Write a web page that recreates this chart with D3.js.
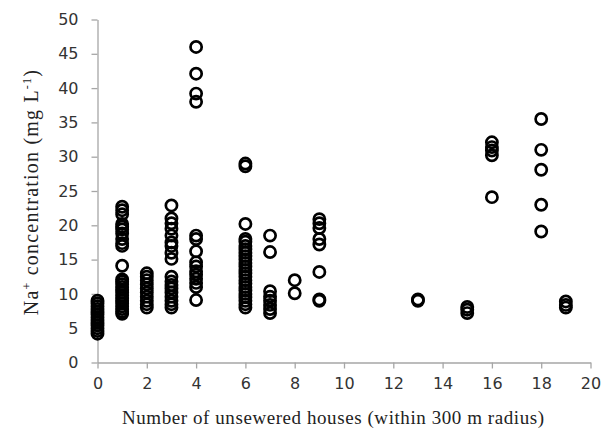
<!DOCTYPE html>
<html><head><meta charset="utf-8">
<script src="https://cdn.jsdelivr.net/npm/d3@7"></script>
<style>body{margin:0;background:#fff}svg{display:block}</style>
</head><body>
<script>
// Data: x = number of unsewered houses, y = Na+ concentration (mg/L)
const x0  = [4.2, 4.6, 5.0, 5.4, 5.8, 6.2, 6.6, 7.0, 7.4, 7.8, 8.2, 8.6, 9.0];
const x1  = [7.1, 7.4, 7.8, 8.2, 8.6, 9.0, 9.4, 9.8, 10.2, 10.6, 11.0, 11.4, 11.8, 12.1, 14.1, 17.0, 17.4, 18.0, 18.8, 19.4, 19.8, 20.2, 21.6, 22.2, 22.7];
const x2  = [8.0, 8.5, 9.0, 9.6, 10.2, 10.8, 11.4, 12.0, 12.5, 13.0];
const x3  = [8.0, 8.5, 9.0, 9.6, 10.2, 10.8, 11.3, 11.8, 12.5, 15.1, 16.0, 17.0, 17.5, 18.5, 19.5, 20.3, 21.0, 22.9];
const x4  = [9.1, 11.0, 11.6, 12.2, 12.8, 13.3, 14.0, 14.6, 16.2, 18.0, 18.5, 38.0, 39.2, 42.1, 46.0];
const x6  = [8.0, 8.5, 9.0, 9.5, 10.0, 10.5, 11.0, 11.5, 12.0, 12.5, 13.0, 13.5, 14.0, 14.5, 15.0, 15.5, 16.0, 16.5, 17.0, 17.6, 18.0, 20.2, 28.6, 29.0];
const x7  = [7.2, 7.8, 8.4, 9.0, 9.6, 10.4, 16.1, 18.5];
const x8  = [10.1, 12.0];
const x9  = [9.0, 9.2, 13.2, 17.2, 18.0, 19.6, 20.3, 20.9];
const x13 = [9.0, 9.2];
const x15 = [7.2, 7.7, 8.1];
const x16 = [24.1, 30.2, 30.9, 31.4, 32.1];
const x18 = [19.1, 23.0, 28.1, 31.0, 35.5];
const x19 = [8.0, 8.4, 8.9];
const houses = [0, 1, 2, 3, 4, 6, 7, 8, 9, 13, 15, 16, 18, 19];
const naValues = [x0, x1, x2, x3, x4, x6, x7, x8, x9, x13, x15, x16, x18, x19];
const xTicks = [0, 2, 4, 6, 8, 10, 12, 14, 16, 18, 20];
const yTicks = [0, 5, 10, 15, 20, 25, 30, 35, 40, 45, 50];

const points = [];
houses.forEach((h, i) => naValues[i].forEach(v => points.push({x: h, y: v})));

const W = 605, H = 439;
const svg = d3.select("body").append("svg").attr("width", W).attr("height", H);

const xS = d3.scaleLinear().domain([0, 20]).range([97.5, 590.5]);
const yS = d3.scaleLinear().domain([0, 50]).range([362.5, 19.5]);

const axisColor = "#a6a6a6";
const tickFont = "DejaVu Sans, Verdana, sans-serif";

const xAxis = svg.append("g").attr("transform", `translate(0,${yS(0)})`)
  .call(d3.axisBottom(xS).tickValues(xTicks).tickSize(6).tickSizeOuter(0).tickPadding(9));
const yAxis = svg.append("g").attr("transform", `translate(${xS(0)},0)`)
  .call(d3.axisLeft(yS).tickValues(yTicks).tickSize(6).tickSizeOuter(0).tickPadding(13));

[xAxis, yAxis].forEach(g => {
  g.select(".domain").attr("stroke", axisColor).attr("stroke-width", 1.3);
  g.selectAll(".tick line").attr("stroke", axisColor).attr("stroke-width", 1.3);
  g.selectAll(".tick text").attr("fill", "#333").style("font-family", tickFont).style("font-size", "16px");
});

svg.append("g").selectAll("circle").data(points).join("circle")
  .attr("cx", d => xS(d.x)).attr("cy", d => yS(d.y)).attr("r", 5.6)
  .attr("fill", "none").attr("stroke", "#000").attr("stroke-width", 2.7);

const serif = "Liberation Serif, Times New Roman, serif";
svg.append("text").attr("x", 333).attr("y", 424).attr("text-anchor", "middle")
  .style("font-family", serif).style("font-size", "19px").attr("fill", "#222")
  .attr("textLength", 422).attr("lengthAdjust", "spacing")
  .text("Number of unsewered houses (within 300 m radius)");

const yt = svg.append("text").attr("transform", "translate(38,192) rotate(-90)")
  .attr("text-anchor", "middle").style("font-family", serif).style("font-size", "20px")
  .style("letter-spacing", "1.2px").attr("fill", "#222");
yt.append("tspan").text("Na");
yt.append("tspan").attr("dy", -7).style("font-size", "12px").text("+");
yt.append("tspan").attr("dy", 7).text(" concentration (mg L");
yt.append("tspan").attr("dy", -7).style("font-size", "12px").text("-1");
yt.append("tspan").attr("dy", 7).text(")");
</script>
</body></html>
